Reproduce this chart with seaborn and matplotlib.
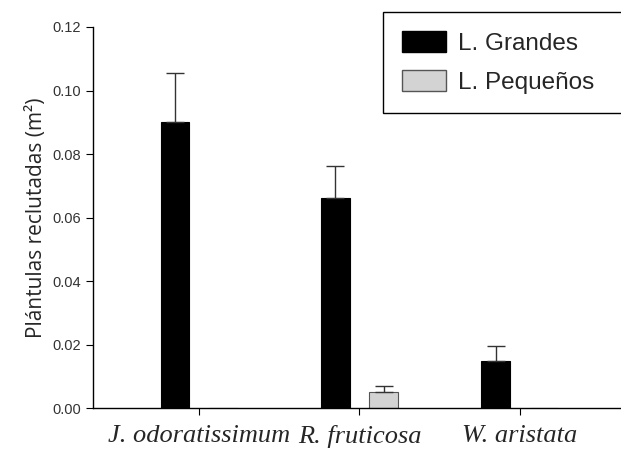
import pandas as pd
import matplotlib
matplotlib.use("Agg")
import matplotlib.pyplot as plt
import seaborn as sns
from matplotlib.patches import Patch, Rectangle

species = ["J. odoratissimum", "R. fruticosa", "W. aristata"]
groups = ["L. Grandes", "L. Pequeños"]
grandes = [0.090, 0.066, 0.0148]
pequenos = [0.0, 0.005, 0.0]
grandes_err = [0.0155, 0.0102, 0.0047]
pequenos_err = [0.0, 0.0019, 0.0]

colors = {"L. Grandes": "black", "L. Pequeños": "#d3d3d3"}
edges = {"L. Grandes": "black", "L. Pequeños": "#555555"}

data = pd.DataFrame({
    "species": species * 2,
    "group": [groups[0]] * 3 + [groups[1]] * 3,
    "value": grandes + pequenos,
    "err": grandes_err + pequenos_err,
})

sns.set_style("white")
plt.rcParams["font.family"] = ["Liberation Sans", "DejaVu Sans"]

fig = plt.figure(figsize=(6.21, 4.5), dpi=100)
ax = fig.add_axes([0.15, 0.0933, 0.85, 0.8467])

sns.barplot(data=data, x="species", y="value", hue="group", palette=colors,
            width=0.6, gap=0.4, ax=ax, legend=False, errorbar=None,
            saturation=1, linewidth=0.8)

# bar edges + error bars (upper only)
for container, g in zip(ax.containers, groups):
    sub = data[data["group"] == g]
    for bar, (_, row) in zip(container, sub.iterrows()):
        bar.set_edgecolor(edges[g])
        if row["value"] > 0:
            xc = bar.get_x() + bar.get_width() / 2
            ax.errorbar(xc, row["value"], yerr=[[0], [row["err"]]],
                        fmt="none", ecolor="#333333", elinewidth=1,
                        capsize=6.5, capthick=1)

ax.set_ylim(0, 0.12)
ax.set_xlim(-0.66, 2.63)
ax.set_yticks([0, 0.02, 0.04, 0.06, 0.08, 0.10, 0.12])
ax.set_yticklabels(["0.00", "0.02", "0.04", "0.06", "0.08", "0.10", "0.12"],
                   fontsize=10.5, color="#333333")
ax.set_xticks([0, 1, 2])
ax.set_xticklabels(species, family=["Liberation Serif", "DejaVu Serif"],
                   style="italic", fontsize=19)
ax.tick_params(axis="both", direction="out", length=5, width=0.8,
               color="black", bottom=True, left=True)
ax.tick_params(axis="x", pad=7)
ax.set_xlabel("")
ax.set_ylabel("Plántulas reclutadas (m²)", fontsize=15, labelpad=4,
              family=["Open Sans", "DejaVu Sans"])
sns.despine(ax=ax)
for s in ["left", "bottom"]:
    ax.spines[s].set_color("black")
    ax.spines[s].set_linewidth(1)

# legend box runs off the right edge, as in the original
fig.patches.append(Rectangle((383 / 621, 1 - 113 / 450), 0.7, 101 / 450,
                             transform=fig.transFigure, facecolor="white",
                             edgecolor="black", linewidth=1, zorder=5))
handles = [Patch(facecolor=colors[g], edgecolor=edges[g], label=g) for g in groups]
leg = fig.legend(handles=handles, loc="upper left",
                 bbox_to_anchor=(383 / 621, 1 - 12 / 450),
                 fontsize=17.5, frameon=False,
                 handlelength=1.8, handleheight=0.95, borderpad=0.8,
                 labelspacing=0.6, handletextpad=0.5, borderaxespad=0)
leg.set_zorder(6)

fig.savefig("out.png", dpi=100)
